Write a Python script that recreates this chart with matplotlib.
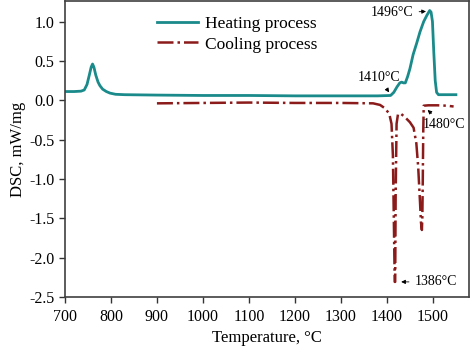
import matplotlib
matplotlib.use("Agg")
import matplotlib.pyplot as plt

# heating curve
heat_T = [700, 720, 735, 742, 748, 753, 757, 760, 763, 767, 772, 776, 782, 790,
          798, 810, 830, 900, 1000, 1100, 1200, 1300, 1380, 1408, 1415, 1422,
          1428, 1432, 1436, 1440, 1445, 1450, 1457, 1465, 1472, 1480, 1487, 1491,
          1493, 1496, 1499, 1502, 1505, 1508, 1512, 1530, 1550]
heat_dsc = [0.11, 0.11, 0.115, 0.13, 0.20, 0.32, 0.42, 0.46, 0.42, 0.32, 0.23,
            0.185, 0.14, 0.11, 0.09, 0.075, 0.07, 0.065, 0.06, 0.06, 0.055, 0.055,
            0.055, 0.06, 0.10, 0.17, 0.22, 0.23, 0.22, 0.22, 0.30, 0.40, 0.58,
            0.73, 0.87, 1.00, 1.08, 1.12, 1.14, 1.12, 1.00, 0.60, 0.25, 0.10,
            0.07, 0.07, 0.07]

# cooling curve
cool_T = [900, 1000, 1100, 1200, 1300, 1370, 1385, 1395, 1405, 1410, 1413, 1415,
          1417, 1418, 1419, 1421, 1424, 1430, 1440, 1450, 1458, 1464, 1468, 1472,
          1474, 1476, 1477, 1478, 1479, 1480, 1490, 1510, 1530, 1545]
cool_dsc = [-0.04, -0.035, -0.03, -0.035, -0.035, -0.04, -0.06, -0.10, -0.17, -0.30,
            -0.70, -1.50, -2.31, -2.31, -1.20, -0.30, -0.18, -0.17, -0.22, -0.28,
            -0.35, -0.55, -0.85, -1.30, -1.55, -1.65, -1.50, -1.00, -0.40, -0.07,
            -0.065, -0.065, -0.07, -0.08]

plt.rcParams['font.family'] = ['Liberation Serif', 'DejaVu Serif']
plt.rcParams['axes.unicode_minus'] = False

fig = plt.figure(figsize=(4.74, 3.62), dpi=100)
ax = fig.add_axes([0.137, 0.180, 0.852, 0.817])

ax.plot(heat_T, heat_dsc, color='#1a8a8a', lw=2.0, label='Heating process')
ax.plot(cool_T, cool_dsc, color='#8b1a1a', lw=1.8, ls='-.', label='Cooling process')

ax.set_xlim(700, 1578)
ax.set_ylim(-2.5, 1.26)
ax.set_xticks(range(700, 1501, 100))
ax.set_yticks([-2.5, -2.0, -1.5, -1.0, -0.5, 0.0, 0.5, 1.0])
ax.set_yticklabels(['-2.5', '-2.0', '-1.5', '-1.0', '-0.5', '0.0', '0.5', '1.0'])
ax.tick_params(direction='out', length=4, width=1, labelsize=11.5, color='#333333')
ax.tick_params(axis='x', pad=5)
for s in ax.spines.values():
    s.set_color('#404040')
    s.set_linewidth(1.2)

ax.set_xlabel('Temperature, °C', fontsize=12, labelpad=3)
ax.set_ylabel('DSC, mW/mg', fontsize=12, labelpad=2)

ap = dict(arrowstyle='-|>', lw=0.6, color='black', mutation_scale=6)
ax.annotate('1496°C', xy=(1491, 1.13), xytext=(1458, 1.11), fontsize=10,
            ha='right', va='center', arrowprops=ap)
ax.annotate('1410°C', xy=(1408, 0.07), xytext=(1383, 0.29), fontsize=10,
            ha='center', va='center', arrowprops=ap)
ax.annotate('1480°C', xy=(1484, -0.10), xytext=(1477, -0.31), fontsize=10,
            ha='left', va='center', arrowprops=ap)
ax.annotate('1386°C', xy=(1425, -2.31), xytext=(1460, -2.31), fontsize=10,
            ha='left', va='center', arrowprops=ap)

ax.legend(loc='upper left', bbox_to_anchor=(0.227, 0.95), frameon=False,
          fontsize=12.5, handlelength=2.4, handletextpad=0.4, labelspacing=0.25,
          borderpad=0, borderaxespad=0)

fig.savefig('out.png', dpi=100)
